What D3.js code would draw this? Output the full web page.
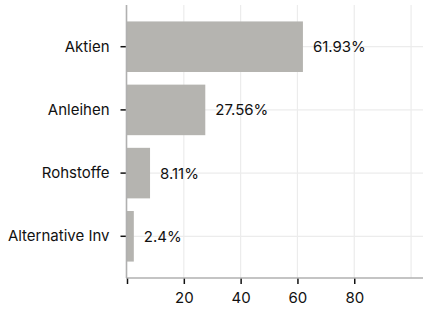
<!DOCTYPE html>
<html>
<head>
<meta charset="utf-8">
<script src="https://cdn.jsdelivr.net/npm/d3@7"></script>
<style>
  body { margin: 0; background: #fff; }
  svg { display: block; font-family: Inter, "DejaVu Sans", sans-serif; }
</style>
</head>
<body>
<div id="chart"></div>
<script>
const categories = ["Aktien", "Anleihen", "Rohstoffe", "Alternative Inv"];
const values = [61.93, 27.56, 8.11, 2.4];
const valueLabels = ["61.93%", "27.56%", "8.11%", "2.4%"];
const xTicks = [0, 20, 40, 60, 80];
const xGrid = [20, 40, 60, 80, 100];

const width = 423;
const height = 311;
const margin = { top: 5, right: 0, bottom: 33, left: 127 };

const svg = d3.select("#chart")
  .append("svg")
  .attr("width", width)
  .attr("height", height);

const x = d3.scaleLinear()
  .domain([0, 104.2])
  .range([margin.left, width - margin.right]);

const y = d3.scaleBand()
  .domain(categories)
  .range([margin.top, height - margin.bottom])
  .paddingInner(0.2)
  .paddingOuter(0.26);

// grid
svg.append("g")
  .selectAll("line.vg")
  .data(xGrid)
  .enter()
  .append("line")
  .attr("x1", d => x(d))
  .attr("x2", d => x(d))
  .attr("y1", margin.top)
  .attr("y2", height - margin.bottom)
  .attr("stroke", "#ececec")
  .attr("stroke-width", 1.2);

svg.append("g")
  .selectAll("line.hg")
  .data(categories)
  .enter()
  .append("line")
  .attr("x1", margin.left)
  .attr("x2", width - margin.right)
  .attr("y1", d => y(d) + y.bandwidth() / 2)
  .attr("y2", d => y(d) + y.bandwidth() / 2)
  .attr("stroke", "#ececec")
  .attr("stroke-width", 1.2);

// bars
svg.append("g")
  .selectAll("rect")
  .data(values)
  .enter()
  .append("rect")
  .attr("x", x(0))
  .attr("y", (d, i) => y(categories[i]))
  .attr("width", d => x(d) - x(0))
  .attr("height", y.bandwidth())
  .attr("fill", "#b5b4b0");

// value labels
svg.append("g")
  .selectAll("text")
  .data(values)
  .enter()
  .append("text")
  .attr("x", d => x(d) + 10)
  .attr("y", (d, i) => y(categories[i]) + y.bandwidth() / 2)
  .attr("dominant-baseline", "central")
  .attr("font-size", "15px")
  .attr("fill", "#111")
  .text((d, i) => valueLabels[i]);

// y axis
const yAxis = svg.append("g")
  .attr("transform", "translate(" + (margin.left - 0.5) + ",0)")
  .call(d3.axisLeft(y).tickSize(6).tickPadding(11));
yAxis.select(".domain").remove();
yAxis.selectAll(".tick line").attr("stroke", "#111").attr("stroke-width", 1.5);
yAxis.selectAll(".tick text").attr("font-size", "15px").attr("fill", "#111")
  .attr("font-family", "Inter, sans-serif");

// x axis (0 has a tick but no label)
const xAxis = svg.append("g")
  .attr("transform", "translate(0," + (height - margin.bottom) + ")")
  .call(d3.axisBottom(x).tickValues(xTicks).tickFormat(d => d === 0 ? "" : d3.format("d")(d)).tickSize(6).tickPadding(8));
xAxis.select(".domain").remove();
xAxis.selectAll(".tick line").attr("stroke", "#111").attr("stroke-width", 1.5);
xAxis.selectAll(".tick text").attr("font-size", "15px").attr("fill", "#111")
  .attr("font-family", "Inter, sans-serif");

// axis lines
svg.append("line")
  .attr("x1", margin.left - 0.5).attr("x2", margin.left - 0.5)
  .attr("y1", margin.top).attr("y2", height - margin.bottom)
  .attr("stroke", "#b0b0b0").attr("stroke-width", 1.6);
svg.append("line")
  .attr("x1", margin.left - 1).attr("x2", width)
  .attr("y1", height - margin.bottom).attr("y2", height - margin.bottom)
  .attr("stroke", "#b0b0b0").attr("stroke-width", 1.6);
</script>
</body>
</html>
